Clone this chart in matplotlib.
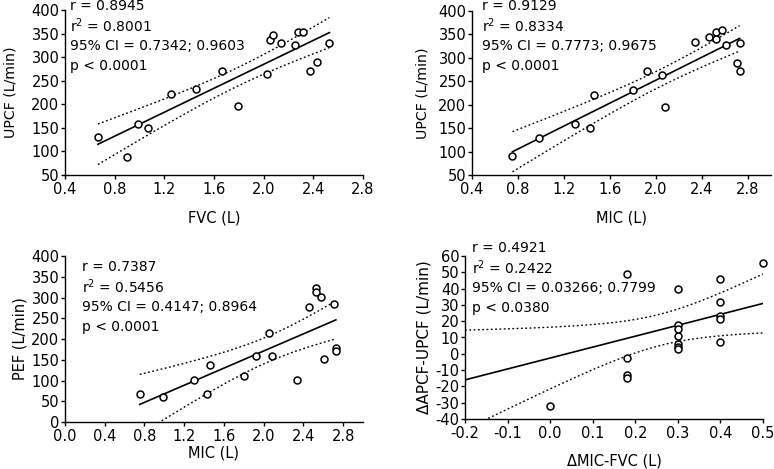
import numpy as np
import matplotlib.pyplot as plt

plt.rcParams['font.family'] = ['DejaVu Sans']
plt.rcParams['axes.unicode_minus'] = False

W, H = 774, 469

# ── Data ──
fvc = [0.665, 0.902, 0.988, 1.071, 1.25, 1.458, 1.667, 1.79, 2.03,
       2.05, 2.076, 2.14, 2.255, 2.273, 2.32, 2.37, 2.43, 2.53]
upcf_fvc = [131, 88, 159, 150, 221, 233, 271, 196, 265,
            337, 346, 331, 325, 354, 354, 271, 289, 331]

mic = [0.752, 0.982, 1.296, 1.427, 1.462, 1.802, 1.918, 2.055, 2.081,
       2.335, 2.46, 2.524, 2.524, 2.573, 2.605, 2.704, 2.727, 2.727]
upcf_mic = [90, 129, 159, 150, 220, 231, 271, 263, 195,
            334, 345, 356, 340, 360, 327, 289, 331, 272]
pef_mic = [67, 61, 102, 67, 137, 112, 159, 214, 158,
           101, 277, 322, 313, 301, 152, 284, 179, 172]

d_mic_fvc = [0.0, 0.18, 0.18, 0.18, 0.18, 0.3, 0.3, 0.3, 0.3,
             0.3, 0.3, 0.3, 0.4, 0.4, 0.4, 0.4, 0.4, 0.5]
d_apcf_upcf = [-32, 49, -2.3, -13, -15, 39.6, 17.6, 15, 11,
               6, 4.4, 3, 46, 32, 23, 21.3, 7.5, 55.7]

# the delta panel's fit as drawn in the reference (it does not follow the
# plotted points): line + CI half-width hyperbola
delta_fit = dict(intercept=-2.6, slope=67.0, x0=0.258, h_min=9.6, curv=4000.0)

stats = [
    ['r = 0.8945', 'r$^2$ = 0.8001', '95% CI = 0.7342; 0.9603', 'p < 0.0001'],
    ['r = 0.9129', 'r$^2$ = 0.8334', '95% CI = 0.7773; 0.9675', 'p < 0.0001'],
    ['r = 0.7387', 'r$^2$ = 0.5456', '95% CI = 0.4147; 0.8964', 'p < 0.0001'],
    ['r = 0.4921', 'r$^2$ = 0.2422', '95% CI = 0.03266; 0.7799', 'p < 0.0380'],
]

T_CRIT = 2.120  # t(0.975, df=16)


def fit_band(x, y, xs):
    x = np.asarray(x, float)
    y = np.asarray(y, float)
    n = len(x)
    b, a = np.polyfit(x, y, 1)
    resid = y - (a + b * x)
    s = np.sqrt((resid ** 2).sum() / (n - 2))
    sxx = ((x - x.mean()) ** 2).sum()
    yfit = a + b * xs
    half = T_CRIT * s * np.sqrt(1 / n + (xs - x.mean()) ** 2 / sxx)
    return yfit, yfit - half, yfit + half


def given_band(f, xs):
    yfit = f['intercept'] + f['slope'] * xs
    half = np.sqrt(f['h_min'] ** 2 + f['curv'] * (xs - f['x0']) ** 2)
    return yfit, yfit - half, yfit + half


def px_axes(l, t, r, b):
    return [l / W, 1 - b / H, (r - l) / W, (b - t) / H]


fig = plt.figure(figsize=(W / 100, H / 100), dpi=100)

panels = [
    dict(box=(65, 10, 363, 175), x=fvc, y=upcf_fvc, xlim=(0.4, 2.8),
         xticks=np.arange(0.4, 2.81, 0.4), ylim=(50, 400),
         yticks=np.arange(50, 401, 50), xlabel='FVC (L)', ylabel='UPCF (L/min)',
         fit=None, txt=(70, 6), xlpad=10, ylpad=10, lsize=10.2),
    dict(box=(472, 11, 771, 175), x=mic, y=upcf_mic, xlim=(0.4, 3.0),
         xticks=np.arange(0.4, 2.81, 0.4), ylim=(50, 400),
         yticks=np.arange(50, 401, 50), xlabel='MIC (L)', ylabel='UPCF (L/min)',
         fit=None, txt=(482, 6), xlpad=10, ylpad=6, lsize=10.2),
    dict(box=(65, 256, 363, 422), x=mic, y=pef_mic, xlim=(0.0, 3.0),
         xticks=np.arange(0.0, 2.81, 0.4), ylim=(0, 400),
         yticks=np.arange(0, 401, 50), xlabel='MIC (L)', ylabel='PEF (L/min)',
         fit=None, txt=(82, 267), xlpad=1, ylpad=3, lsize=10.5),
    dict(box=(465, 256, 763, 419), x=d_mic_fvc, y=d_apcf_upcf, xlim=(-0.2, 0.5),
         xticks=np.arange(-0.2, 0.51, 0.1), ylim=(-40, 60),
         yticks=np.arange(-40, 61, 10), xlabel='ΔMIC-FVC (L)',
         ylabel='ΔAPCF-UPCF (L/min)', fit=delta_fit, txt=(472, 248),
         xlpad=9, ylpad=3, lsize=11),
]

for p, st in zip(panels, stats):
    ax = fig.add_axes(px_axes(*p['box']))
    x = np.asarray(p['x'])
    if p['fit'] is not None:
        xs = np.linspace(p['xlim'][0], p['xlim'][1], 200)
        yfit, lo, hi = given_band(p['fit'], xs)
    else:
        xs = np.linspace(x.min(), x.max(), 200)
        yfit, lo, hi = fit_band(p['x'], p['y'], xs)
    ax.plot(xs, yfit, color='black', lw=1.2)
    ax.plot(xs, lo, color='black', lw=1.0, ls=(0, (1.3, 1.8)))
    ax.plot(xs, hi, color='black', lw=1.0, ls=(0, (1.3, 1.8)))
    ax.plot(p['x'], p['y'], 'o', ms=5, mfc='white', mec='black', mew=1.1,
            clip_on=False, zorder=5)
    ax.set_xlim(*p['xlim'])
    ax.set_ylim(*p['ylim'])
    ax.set_xticks(p['xticks'])
    ax.set_xticklabels(['{:.1f}'.format(v + 0.0) for v in np.round(p['xticks'], 2)])
    ax.set_yticks(p['yticks'])
    for s in ['top', 'right']:
        ax.spines[s].set_visible(False)
    for s in ['left', 'bottom']:
        ax.spines[s].set_linewidth(1.0)
    ax.tick_params(direction='out', length=3, width=1.0, labelsize=10.5, pad=1)
    ax.tick_params(axis='x', pad=2)
    ax.set_xlabel(p['xlabel'], fontsize=10.5, labelpad=p['xlpad'])
    ax.set_ylabel(p['ylabel'], fontsize=p['lsize'], labelpad=p['ylpad'])
    tx, ty = p['txt']
    for i, line in enumerate(st):
        fig.text(tx / W, 1 - (ty + 20 * i) / H, line, fontsize=10,
                 va='center', ha='left')

fig.savefig('out.png', dpi=100, facecolor='white')
